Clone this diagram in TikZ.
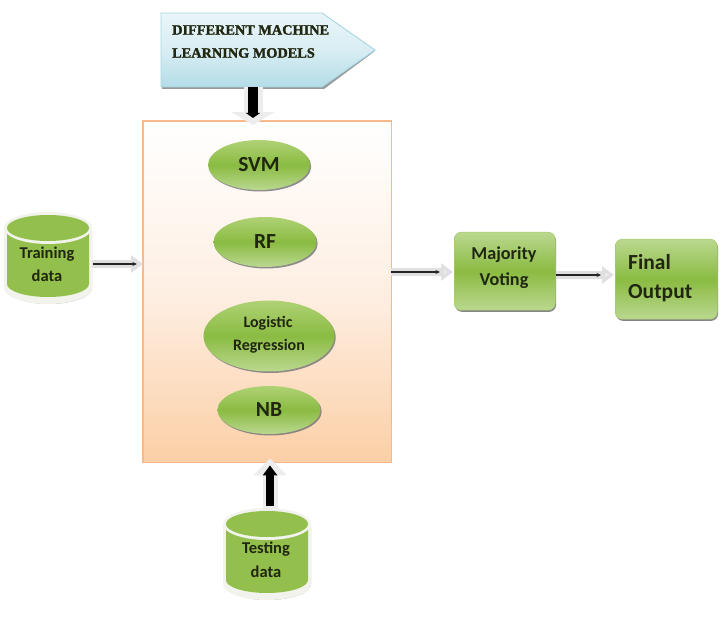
\documentclass[tikz,border=0pt]{standalone}
\usepackage{fontspec}
\setmainfont{Carlito}
\newfontfamily\titlefont[BoldFeatures={FakeBold=1.6}]{Liberation Serif}
\usetikzlibrary{arrows.meta,calc,shadows,shapes.geometric}
\definecolor{barrel}{HTML}{93BF4C}
\definecolor{rimwhite}{HTML}{F1F3EC}
\definecolor{inktext}{HTML}{20260F}
\definecolor{green1}{HTML}{AFD275}
\definecolor{green2}{HTML}{BAD88F}
\definecolor{green3}{HTML}{8ABB42}
\definecolor{green4}{HTML}{A5CB6C}
\definecolor{peach}{HTML}{FBCFA6}
\definecolor{peachmid}{HTML}{FEEFE3}
\definecolor{panelline}{HTML}{F8B98A}
\definecolor{blue1}{HTML}{B3DCE7}
\definecolor{blue2}{HTML}{A6D6E3}
\definecolor{blue3}{HTML}{E9F5F8}
\tikzset{
  x=1pt,y=-1pt,
  lbl/.style={font=\bfseries\fontsize{#1}{#1}\selectfont,text=inktext,inner sep=0pt},
  lbl/.default=15,
  oval/.style={draw=none,top color=green1,bottom color=green2,middle color=green3,
     drop shadow={shadow xshift=1.2pt,shadow yshift=-1.5pt,fill=black!55,opacity=.8}},
  gbox/.style={rectangle,rounded corners=7pt,draw=green4,line width=.5pt,top color=green2,bottom color=green2,middle color=green3,
     drop shadow={shadow xshift=.8pt,shadow yshift=-1.6pt,fill=black!60,opacity=.8},inner sep=0pt},
  flowout/.style={line width=8pt,draw=black!12,-{Triangle[length=12pt,width=17pt,fill=black!8]}},
  flowin/.style={line width=1.1pt,draw=black!85,-{Stealth[length=4.5pt,width=4pt]}},
  downout/.style={line width=19pt,draw=black!7,-{Triangle[length=13pt,width=43pt,fill=black!7]}},
  downin/.style={line width=10pt,draw=black,-{Triangle[length=5pt,width=14pt,fill=black]}},
  upout/.style={line width=15pt,draw=black!7,-{Triangle[length=17pt,width=33pt,fill=black!7]}},
  upin/.style={line width=8pt,draw=black,-{Triangle[length=10pt,width=14pt,fill=black]}},
}
\newcommand{\drumshape}[6]{% name, cx, top, bottom, rx, ry
  \fill[black!30] (#2+#5+1,#3) -- (#2+#5+3,#3+3) -- (#2+#5+3,#4) arc[start angle=0,end angle=180,x radius=#5+2,y radius=#6+3] -- cycle;
  \fill[rimwhite] (#2-#5-3,#3) -- (#2-#5-3,#4) arc[start angle=180,end angle=360,x radius=#5+3,y radius=-#6-3] -- (#2+#5+3,#3) -- cycle;
  \fill[barrel] (#2-#5,#3+2) -- (#2-#5,#4-4) arc[start angle=180,end angle=360,x radius=#5,y radius=-#6] -- (#2+#5,#3+2) -- cycle;
  \fill[rimwhite] (#2,#3) ellipse[x radius=#5+3,y radius=#6+3];
  \fill[barrel] (#2,#3) ellipse[x radius=#5,y radius=#6];
  \node[rectangle,minimum width=2*#5+6,minimum height=#4-#3+2*#6+6,inner sep=0pt,anchor=north] (#1) at (#2,#3-#6-3) {};
}
\begin{document}
\begin{tikzpicture}
\useasboundingbox (0,0) rectangle (726,617);
% main panel
\node[rectangle,minimum width=248,minimum height=341,inner sep=0pt,
  top color=white,bottom color=peach,middle color=peachmid,anchor=north west] (panel) at (143,121) {};
\draw[panelline,line width=1.6pt] (panel.north west) rectangle (panel.south east);
% top pentagon
\fill[black!40] (162,16) -- (323,16) -- (375,51) -- (324,89) -- (162,89) -- cycle;
\shade[top color=blue3,bottom color=blue1,middle color=blue3!70!blue1] (161,13) -- (322,13) -- (375,50) -- (322,87) -- (161,87) -- cycle;
\draw[blue2,line width=.9pt] (161,13) -- (322,13) -- (375,50) -- (322,87) -- (161,87) -- cycle;
\node[rectangle,minimum width=214,minimum height=74,inner sep=0pt,anchor=north west] (models) at (161,13) {};
\node[font=\titlefont\bfseries\fontsize{14.3}{14.3}\selectfont,text=inktext,anchor=west,inner sep=0pt] (t1) at (172,30) {DIFFERENT MACHINE};
\node[font=\titlefont\bfseries\fontsize{14.3}{14.3}\selectfont,text=inktext,anchor=west,inner sep=0pt] (t2) at (172,53) {LEARNING MODELS};
% ovals
\node[ellipse,oval,minimum width=102,minimum height=50,inner sep=0pt,lbl=21.5] (svm) at (259,165) {SVM};
\node[ellipse,oval,minimum width=103,minimum height=50,inner sep=0pt,lbl=21.5] (rf) at (265,242) {RF};
\node[ellipse,oval,minimum width=131,minimum height=71,inner sep=0pt] (lr) at (269,336) {};
\node[lbl=16] (lr1) at (268,323) {Logistic};
\node[lbl=16] (lr2) at (269,346) {Regression};
\node[ellipse,oval,minimum width=103,minimum height=48,inner sep=0pt,lbl=21.5] (nb) at (269,410) {NB};
% drums
\drumshape{train}{48}{228}{288}{41}{13}
\node[lbl=16.5] (tr1) at (47,254) {Training};
\node[lbl=16.5] (tr2) at (47,276) {data};
\drumshape{test}{267}{524}{584}{41}{13}
\node[lbl=16.5] (te1) at (266,549) {Testing};
\node[lbl=16.5] (te2) at (266,572) {data};
% boxes
\node[gbox,minimum width=101,minimum height=78,anchor=north west] (vote) at (454,232) {};
\node[lbl=18.2] (v1) at (504,255) {Majority};
\node[lbl=18.2] (v2) at (504,281) {Voting};
\node[gbox,minimum width=102,minimum height=80,anchor=north west] (final) at (615,239) {};
\node[lbl=21.5,anchor=west] (f1) at (628,262) {Final};
\node[lbl=21.5,anchor=west] (f2) at (628,293) {Output};
% connectors
\coordinate (ya) at (0,264);
\coordinate (yb) at (0,272);
\coordinate (yc) at (0,275);
\draw[flowout] (train.east|-ya) -- (panel.west|-ya);
\draw[flowin] ([xshift=1pt]train.east|-ya) -- ([xshift=-6pt]panel.west|-ya);
\draw[flowout] (panel.east|-yb) -- ([xshift=-1pt]vote.west|-yb);
\draw[flowin] (panel.east|-yb) -- ([xshift=-14pt]vote.west|-yb);
\draw[flowout] (vote.east|-yc) -- ([xshift=-1pt]final.west|-yc);
\draw[flowin] (vote.east|-yc) -- ([xshift=-14pt]final.west|-yc);
\coordinate (xa) at (253,0);
\coordinate (xb) at (270,0);
\draw[downout] (models.south-|xa) -- ([yshift=-4pt]panel.north-|xa);
\draw[downin] (models.south-|xa) -- ([yshift=3pt]panel.north-|xa);
\draw[upout] ([yshift=-3pt]test.north-|xb) -- ([yshift=4pt]panel.south-|xb);
\draw[upin] ([yshift=2pt]test.north-|xb) -- ([yshift=-3pt]panel.south-|xb);
\end{tikzpicture}
\end{document}
